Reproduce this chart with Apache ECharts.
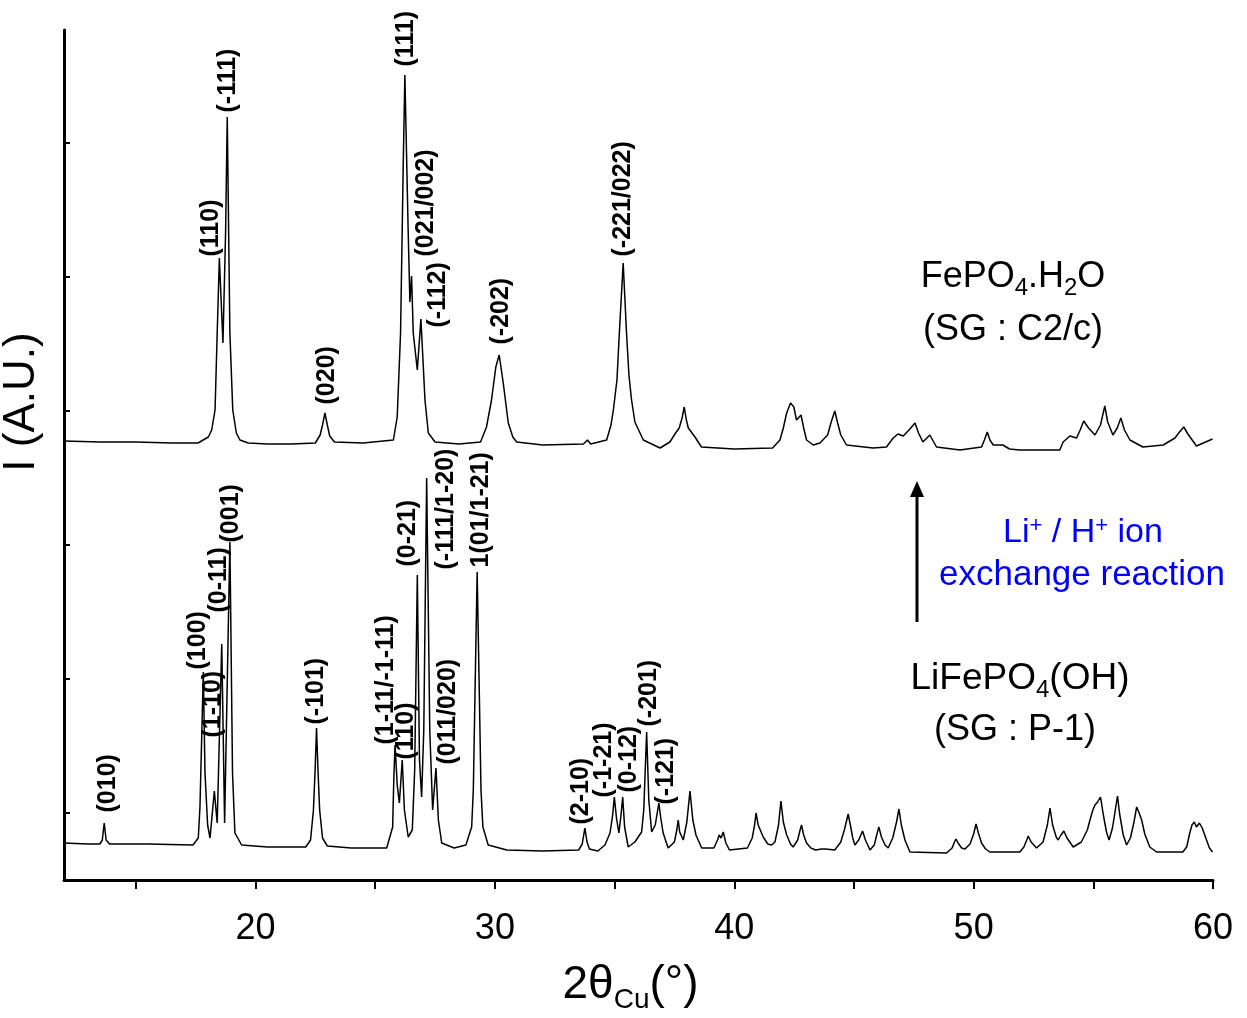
<!DOCTYPE html>
<html>
<head>
<meta charset="utf-8">
<script src="https://cdn.jsdelivr.net/npm/echarts@6/dist/echarts.min.js"></script>
<style>
html,body{margin:0;padding:0;background:#fff;}
#main{width:1247px;height:1018px;}
</style>
</head>
<body>
<div id="main"></div>
<script>
// ---- data (2θ in degrees, intensity in arbitrary units) ----
const fepo4H2O = [
[12.0,439],[13.5,438],[15.0,438],[16.5,437],[17.6,437],[18.03,443],[18.17,450],[18.31,470],[18.40,547],[18.49,622],[18.64,537],[18.75,647],[18.82,763],[18.93,547],[19.05,470],[19.2,447],[19.35,440],[19.7,437],
[20.5,436],[21.5,436],[22.5,437],[22.7,445],[22.8,455],[22.90,467],[23.0,455],[23.1,444],[23.3,438],[24.5,437],[25.76,440],[25.92,463],[26.06,547],[26.17,713],[26.24,805],[26.38,647],[26.45,578],[26.52,604],[26.59,547],[26.76,510],[26.91,561],[27.08,480],[27.22,447],[27.5,438],
[28.5,436],[29.4,438],[29.65,453],[29.86,480],[30.04,513],[30.18,525],[30.35,497],[30.56,457],[30.75,443],[30.91,438],[32.0,435],[33.7,436],[33.87,440],[34.0,436],[34.67,440],[34.85,455],[34.95,470],[35.1,500],[35.20,547],[35.36,617],[35.50,547],[35.6,505],[35.71,480],[35.85,458],[36.20,440],[36.9,432],
[37.31,438],[37.55,447],[37.7,452],[37.82,462],[37.91,473],[38.0,460],[38.08,452],[38.36,443],[38.63,433],[40.0,431],[41.6,432],[41.91,440],[42.05,452],[42.19,467],[42.35,477],[42.49,473],[42.60,460],[42.79,465],[42.9,452],[43.02,440],[43.30,435],[43.58,437],[43.9,445],[44.05,458],[44.20,469],[44.32,457],[44.45,445],[44.69,435],
[45.8,432],[46.36,433],[46.64,442],[46.84,446],[47.06,444],[47.3,450],[47.55,457],[47.7,447],[47.88,438],[48.17,445],[48.45,433],[49.43,430],[50.33,433],[50.45,440],[50.57,448],[50.68,440],[50.82,435],[51.22,435],[51.5,431],[51.93,430],[53.6,430],[53.74,438],[54.02,444],[54.30,442],[54.45,450],[54.6,459],[54.8,452],[55.07,445],[55.3,455],[55.48,474],[55.6,458],[55.82,445],[56.0,452],[56.15,462],[56.3,450],[56.53,440],[57.07,433],[57.92,435],[58.41,442],[58.6,448],[58.78,453],[58.95,446],[59.31,434],[59.98,441]
];
const lifepo4OH = [
[12.0,37],[13.0,36],[13.5,36],[13.6,40],[13.68,57],[13.76,40],[13.9,36],[15.5,36],[17.39,35],[17.61,42],[17.68,73],[17.75,140],[17.82,208],[17.89,107],[18.0,55],[18.1,42],[18.28,89],[18.40,57],[18.59,236],[18.71,57],[18.93,338],[19.04,107],[19.14,47],[19.42,35],
[20.5,33],[22.1,33],[22.3,40],[22.42,70],[22.49,110],[22.55,152],[22.61,110],[22.68,70],[22.8,42],[23.0,34],[24.0,32],[25.48,32],[25.73,53],[25.78,103],[25.83,135],[25.92,95],[26.01,77],[26.13,120],[26.22,70],[26.38,43],[26.55,50],[26.65,110],[26.76,305],[26.85,120],[26.94,83],[27.03,150],[27.15,402],[27.28,150],[27.40,70],[27.54,112],[27.64,60],[27.78,37],
[28.3,32],[28.79,35],[29.03,53],[29.1,90],[29.17,187],[29.26,308],[29.35,187],[29.42,90],[29.5,53],[29.72,35],[30.5,30],[32.0,29],[33.5,30],[33.65,36],[33.76,52],[33.85,38],[33.95,31],[34.3,29],[34.6,35],[34.81,47],[34.92,65],[34.99,83],[35.08,62],[35.18,47],[35.27,65],[35.34,83],[35.42,53],[35.57,33],[35.85,38],[35.99,43],[36.13,48],[36.22,70],[36.34,148],[36.43,80],[36.55,48],[36.7,55],[36.85,77],[36.93,62],[37.03,47],[37.24,32],[37.5,38],[37.6,50],[37.66,60],[37.72,48],[37.87,40],
[38.02,58],[38.15,89],[38.27,60],[38.4,45],[38.64,32],[39.15,32],[39.3,40],[39.37,45],[39.45,42],[39.54,48],[39.65,37],[39.8,30],[40.55,32],[40.75,42],[40.85,55],[40.91,67],[41.0,55],[41.21,43],[41.4,36],[41.56,35],[41.7,38],[41.85,55],[41.95,79],[42.05,58],[42.19,45],[42.35,36],[42.46,33],[42.65,40],[42.75,50],[42.81,55],[42.9,45],[43.02,37],[43.2,32],[43.4,30],[43.65,31],[43.72,33],[43.8,31],[44.2,30],[44.45,38],[44.6,50],[44.76,66],[44.85,55],[44.95,42],[45.04,35],[45.2,40],[45.36,49],[45.48,40],[45.67,30],[45.85,35],[45.95,45],[46.04,53],[46.15,43],[46.3,35],[46.43,32],[46.62,42],[46.78,58],[46.88,71],[46.98,55],[47.13,40],[47.34,28],
[48.87,27],[49.1,32],[49.2,38],[49.26,41],[49.35,37],[49.5,32],[49.64,31],[49.85,36],[50.0,46],[50.10,56],[50.2,47],[50.33,37],[50.5,31],[50.68,28],[51.93,28],[52.1,33],[52.22,40],[52.28,44],[52.4,38],[52.63,32],[52.9,38],[53.08,55],[53.19,72],[53.3,55],[53.45,43],[53.53,40],[53.65,45],[53.77,49],[53.9,42],[54.16,33],[54.5,38],[54.75,50],[54.86,60],[54.98,70],[55.07,75],[55.18,78],[55.30,83],[55.42,65],[55.55,48],[55.66,40],[55.8,52],[55.92,70],[56.01,84],[56.1,66],[56.25,45],[56.39,35],[56.55,42],[56.7,58],[56.81,73],[56.9,68],[57.02,60],[57.15,46],[57.36,33],[57.64,28],[58.74,28],[58.9,33],[59.03,47],[59.12,55],[59.22,58],[59.31,53],[59.43,57],[59.55,52],[59.73,40],[59.85,32],[59.98,28]
];
// Miller index annotations: [2θ, intensity at label start, text]
const fepo4Hkl = [
[18.17,623,'(110)'],[18.86,767,'(-111)'],[23.03,475,'(020)'],[26.31,813,'(111)'],[27.15,623,'(021/002)'],[27.63,552,'(-112)'],[30.28,535,'(-202)'],[35.36,623,'(-221/022)']
];
const lifepo4Hkl = [
[13.85,67,'(010)'],[17.61,210,'(100)'],[18.27,142,'(1-10)'],[18.52,267,'(0-11)'],[19.00,337,'(001)'],[22.56,155,'(-101)'],[25.48,135,'(1-11/-1-11)'],[26.31,120,'(110)'],[26.38,313,'(0-21)'],[27.99,310,'(-111/1-20)'],[28.07,115,'(011/020)'],[29.45,312,'1(01/1-21)'],[33.62,55,'(2-10)'],[34.60,82,'(-1-21)'],[35.64,87,'(0-12)'],[36.45,153,'(-201)'],[37.18,75,'(-121)']
];
const xMajorTicks = [20,30,40,50,60];
const xAllTicks = [15,20,25,30,35,40,45,50,55,60];
const yTicks = [67,201,335,469,603,737];

const FONT = '"Liberation Sans", Arial, Helvetica, sans-serif';
const chart = echarts.init(document.getElementById('main'));

function hklData(arr){
  return arr.map(d => ({value:[d[0], d[1]], name:d[2]}));
}

const option = {
  animation:false,
  backgroundColor:'#ffffff',
  grid:{left:64, right:34, top:30, bottom:138, containLabel:false, outerBoundsMode:'none'},
  xAxis:{
    type:'value', min:12, max:60,
    axisLine:{show:true, onZero:false, lineStyle:{color:'#000', width:3}},
    axisTick:{show:true, customValues:xAllTicks, length:9, lineStyle:{color:'#000', width:2}},
    axisLabel:{customValues:xMajorTicks, fontSize:36, color:'#000', margin:31, fontFamily:FONT},
    splitLine:{show:false},
    name:'2θ{s|Cu}(°)', nameLocation:'middle', nameGap:76,
    nameTextStyle:{fontSize:46, color:'#000', fontFamily:FONT, padding:[0,16,0,0],
      rich:{s:{fontSize:28, color:'#000', fontFamily:FONT, padding:[30,0,0,0]}}}
  },
  yAxis:{
    type:'value', min:0, max:850,
    axisLine:{show:true, onZero:false, lineStyle:{color:'#000', width:3}},
    axisTick:{show:true, inside:true, customValues:yTicks, length:6, lineStyle:{color:'#000', width:2}},
    axisLabel:{show:false},
    splitLine:{show:false}
  },
  series:[
    {name:'FePO4.H2O', type:'line', data:fepo4H2O, showSymbol:false, symbol:'none',
     lineStyle:{color:'#000', width:1.5}, z:3},
    {name:'LiFePO4(OH)', type:'line', data:lifepo4OH, showSymbol:false, symbol:'none',
     lineStyle:{color:'#000', width:1.5}, z:3},
    {name:'hkl', type:'scatter', symbolSize:1, itemStyle:{color:'rgba(0,0,0,0)', opacity:1},
     data:hklData(fepo4Hkl).concat(hklData(lifepo4Hkl)),
     label:{show:true, formatter:'{b}', position:[0,0], rotate:90, align:'left', verticalAlign:'middle',
       fontSize:25, fontWeight:'bold', color:'#000', textBorderWidth:0, fontFamily:FONT}, z:4}
  ],
  graphic:[
    {type:'text', x:22, y:402, rotation:Math.PI/2,
     style:{text:'I (A.U.)', fill:'#000', font:'44px '+FONT, align:'center', verticalAlign:'middle'}},
    {type:'text', x:1013, y:277,
     style:{text:'FePO{s|4}.H{s|2}O', font:'36px '+FONT, fill:'#000', align:'center', verticalAlign:'middle',
       rich:{s:{font:'24px '+FONT, fill:'#000', padding:[22,0,0,0]}}}},
    {type:'text', x:1013, y:330,
     style:{text:'(SG : C2/c)', font:'36px '+FONT, fill:'#000', align:'center', verticalAlign:'middle'}},
    {type:'text', x:1020, y:679,
     style:{text:'LiFePO{s|4}(OH)', font:'37px '+FONT, fill:'#000', align:'center', verticalAlign:'middle',
       rich:{s:{font:'24px '+FONT, fill:'#000', padding:[22,0,0,0]}}}},
    {type:'text', x:1015, y:730,
     style:{text:'(SG : P-1)', font:'36px '+FONT, fill:'#000', align:'center', verticalAlign:'middle'}},
    {type:'text', x:1083, y:533,
     style:{text:'Li{p|+} / H{p|+} ion', font:'34px '+FONT, fill:'#0000ff', align:'center', verticalAlign:'middle',
       rich:{p:{font:'22px '+FONT, fill:'#0000ff', padding:[0,0,14,0]}}}},
    {type:'text', x:1082, y:575,
     style:{text:'exchange reaction', font:'35px '+FONT, fill:'#0000ff', align:'center', verticalAlign:'middle'}},
    {type:'line', shape:{x1:917, y1:622, x2:917, y2:494}, style:{stroke:'#000', lineWidth:3}},
    {type:'polygon', shape:{points:[[917,481],[910,497],[924,497]]}, style:{fill:'#000'}}
  ]
};
chart.setOption(option);
</script>
</body>
</html>
